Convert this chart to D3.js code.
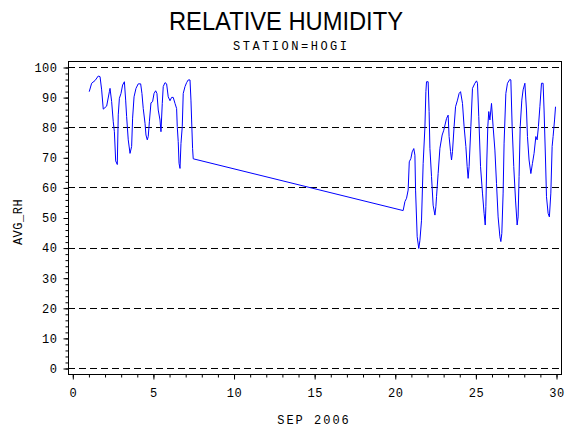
<!DOCTYPE html>
<html>
<head>
<meta charset="utf-8">
<script src="https://cdn.jsdelivr.net/npm/d3@7"></script>
<style>
  body { margin: 0; background: #fff; }
  svg text { fill: #000; }
</style>
</head>
<body>
<div id="chart"></div>
<script>
// hourly relative humidity, day of month (fractional) -> AVG_RH
const days = [
  1.05, 1.20, 1.41, 1.61, 1.72, 1.82, 1.92, 2.13, 2.30, 2.34, 2.44, 2.54, 2.61, 2.69, 2.79,
  2.85, 2.92, 3.02, 3.12, 3.23, 3.31, 3.37, 3.47, 3.58, 3.68, 3.74, 3.83, 3.95, 4.09, 4.24,
  4.32, 4.40, 4.51, 4.57, 4.65, 4.71, 4.78, 4.88, 4.98, 5.07, 5.17, 5.25, 5.33, 5.44, 5.50,
  5.58, 5.64, 5.75, 5.85, 5.95, 6.06, 6.16, 6.26, 6.37, 6.47, 6.51, 6.57, 6.62, 6.68, 6.74,
  6.82, 6.88, 6.99, 7.09, 7.19, 7.30, 7.36, 7.40, 7.46, 7.50,
  20.52, 20.63, 20.73, 20.83, 20.90, 21.00, 21.08, 21.18, 21.25, 21.29, 21.39, 21.49, 21.56,
  21.66, 21.76, 21.87, 21.93, 21.97, 22.07, 22.13, 22.18, 22.28, 22.38, 22.49, 22.55, 22.59,
  22.69, 22.80, 22.94, 23.04, 23.21, 23.31, 23.37, 23.46, 23.52, 23.58, 23.68, 23.77, 23.89,
  23.99, 24.08, 24.20, 24.30, 24.41, 24.49, 24.55, 24.61, 24.72, 24.82, 24.97, 25.07, 25.13,
  25.21, 25.32, 25.44, 25.54, 25.61, 25.65, 25.71, 25.77, 25.83, 25.90, 26.00, 26.10, 26.21,
  26.31, 26.41, 26.52, 26.58, 26.64, 26.72, 26.78, 26.89, 26.99, 27.14, 27.20, 27.28, 27.38,
  27.49, 27.59, 27.65, 27.71, 27.78, 27.88, 27.96, 28.07, 28.17, 28.23, 28.33, 28.44, 28.54,
  28.64, 28.75, 28.83, 28.91, 29.00, 29.10, 29.20, 29.26, 29.35, 29.41, 29.51, 29.59, 29.68,
  29.76, 29.82, 29.91, 29.97
];
const rh = [
  91.8, 94.6, 95.5, 97.0, 96.8, 92.4, 86.0, 87.0, 91.8, 92.9, 88.5, 81.8, 78.5, 68.8, 67.6,
  84.1, 89.6, 91.2, 94.0, 95.1, 89.0, 83.5, 75.8, 71.3, 73.6, 83.0, 90.1, 92.9, 94.4, 94.4,
  91.2, 86.2, 81.3, 77.4, 75.8, 76.9, 81.8, 88.1, 88.5, 91.2, 92.1, 91.2, 85.7, 82.4, 78.5,
  87.9, 93.5, 94.8, 94.4, 90.1, 88.8, 89.9, 89.9, 87.9, 86.2, 80.2, 75.2, 68.0, 66.3, 74.6,
  80.2, 91.2, 93.5, 94.8, 95.7, 95.7, 89.0, 82.4, 72.9, 69.5,
  52.3, 55.3, 56.4, 59.1, 68.5, 69.6, 71.8, 72.9, 70.7, 59.1, 43.6, 39.7, 42.4,
  49.1, 67.9, 80.0, 91.8, 95.1, 95.1, 85.2, 73.0, 63.6, 54.1, 50.8, 53.6, 56.9,
  64.6, 73.0, 77.4, 79.0, 82.9, 84.0, 76.9, 71.9, 69.1, 71.9, 80.2, 86.8, 89.0,
  91.2, 91.8, 87.9, 80.2, 73.6, 66.9, 63.0, 66.9, 80.2, 92.9, 94.6, 95.4, 94.6,
  83.5, 66.9, 58.1, 51.4, 47.5, 53.6, 69.1, 80.2, 85.2, 82.4, 87.9, 80.2, 72.4,
  61.3, 50.2, 43.6, 42.0, 44.7, 58.1, 74.7, 91.2, 94.6, 95.9, 95.7, 80.2, 66.9,
  55.8, 47.5, 50.2, 63.6, 80.2, 89.0, 92.4, 94.6, 85.7, 76.9, 69.1, 64.6, 68.0,
  71.3, 76.9, 75.8, 80.2, 86.8, 94.6, 94.6, 85.7, 69.1, 56.9, 51.4, 50.2, 58.1,
  73.6, 76.9, 82.4, 86.8
];
const yMajor = [0, 10, 20, 30, 40, 50, 60, 70, 80, 90, 100];
const yGrid = [0, 20, 40, 60, 80, 100];
const xMajor = [0, 5, 10, 15, 20, 25, 30];

const W = 570, H = 430;
const frame = { left: 68, right: 561, top: 61, bottom: 374 };
const monoFont = "'Liberation Mono', monospace";

const svg = d3.select("#chart").append("svg")
  .attr("width", W)
  .attr("height", H);

const x = d3.scaleLinear().domain([0, 30]).range([72.3, 556]);
const y = d3.scaleLinear().domain([0, 100]).range([368, 67]);

// titles
svg.append("text")
  .attr("x", 286).attr("y", 30)
  .attr("text-anchor", "middle")
  .attr("textLength", 234)
  .attr("lengthAdjust", "spacingAndGlyphs")
  .style("font-family", "'Liberation Sans', Arial, sans-serif")
  .style("font-size", "26px")
  .text("RELATIVE HUMIDITY");

svg.append("text")
  .attr("x", 290).attr("y", 50)
  .attr("text-anchor", "middle")
  .attr("textLength", 114)
  .attr("lengthAdjust", "spacing")
  .style("font-family", monoFont)
  .style("font-size", "12px")
  .text("STATION=HOGI");

// dashed reference lines
svg.append("g")
  .selectAll("line")
  .data(yGrid)
  .join("line")
  .attr("x1", frame.left).attr("x2", frame.right)
  .attr("y1", d => Math.round(y(d)) + 0.5)
  .attr("y2", d => Math.round(y(d)) + 0.5)
  .attr("stroke", "#000")
  .attr("stroke-dasharray", "7,4");

// frame
svg.append("rect")
  .attr("x", frame.left + 0.5).attr("y", frame.top + 0.5)
  .attr("width", frame.right - frame.left)
  .attr("height", frame.bottom - frame.top)
  .attr("fill", "none")
  .attr("stroke", "#000");

// y axis: minor ticks every 2, major every 10
const yAxisG = svg.append("g")
  .attr("transform", `translate(${frame.left + 0.5},0.5)`);
yAxisG.append("g")
  .call(d3.axisLeft(y).tickValues(d3.range(0, 101, 2)).tickSize(3).tickFormat(""))
  .call(g => g.select(".domain").remove());
yAxisG.append("g")
  .call(d3.axisLeft(y).tickValues(yMajor).tickSize(5).tickPadding(6))
  .call(g => g.select(".domain").remove())
  .selectAll("text")
  .style("font-family", monoFont)
  .style("font-size", "12px")
  .style("letter-spacing", "0.5px");

// x axis: minor ticks every day, major every 5
const xAxisG = svg.append("g")
  .attr("transform", `translate(0.5,${frame.bottom + 0.5})`);
xAxisG.append("g")
  .call(d3.axisBottom(x).tickValues(d3.range(0, 31, 1)).tickSize(3).tickFormat(""))
  .call(g => g.select(".domain").remove());
xAxisG.append("g")
  .call(d3.axisBottom(x).tickValues(xMajor).tickSize(5).tickPadding(9))
  .call(g => g.select(".domain").remove())
  .selectAll("text")
  .style("font-family", monoFont)
  .style("font-size", "12px")
  .style("letter-spacing", "0.5px");

svg.selectAll(".tick line").attr("stroke", "#000");

// axis labels
svg.append("text")
  .attr("x", 314).attr("y", 424)
  .attr("text-anchor", "middle")
  .style("font-family", monoFont)
  .style("font-size", "12px")
  .style("letter-spacing", "2px")
  .text("SEP 2006");

svg.append("text")
  .attr("transform", "translate(22,222) rotate(-90)")
  .attr("text-anchor", "middle")
  .style("font-family", monoFont)
  .style("font-size", "12px")
  .style("letter-spacing", "0.5px")
  .text("AVG_RH");

// data line
const line = d3.line()
  .x((d, i) => x(days[i]))
  .y(d => y(d));

svg.append("path")
  .datum(rh)
  .attr("d", line)
  .attr("fill", "none")
  .attr("stroke", "#0000ff")
  .attr("stroke-width", 1);
</script>
</body>
</html>
